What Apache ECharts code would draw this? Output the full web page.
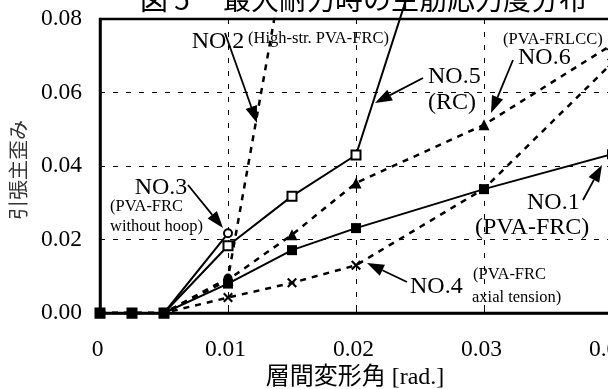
<!DOCTYPE html>
<html>
<head>
<meta charset="utf-8">
<script src="https://cdn.jsdelivr.net/npm/echarts@6/dist/echarts.min.js"></script>
<style>html,body{margin:0;padding:0;background:#fff;}#c{width:608px;height:389px;}</style>
</head>
<body>
<div id="c"></div>
<script>
// ---- data ----
const drift = [0, 0.0025, 0.005, 0.01, 0.015, 0.02, 0.03, 0.04];
const no1 = [0, 0, 0, 0.0080, 0.0171, 0.0231, 0.0337, 0.0432];
const no4 = [0, 0, 0, 0.0042, 0.0082, 0.0130, 0.0338, 0.0680];
const no6 = [0, 0, 0, 0.0090, 0.0213, 0.0354, 0.0512, 0.0730];
const drift5 = [0, 0.0025, 0.005, 0.01, 0.015, 0.02, 0.025];
const no5 = [0, 0, 0, 0.0183, 0.0318, 0.0430, 0.0970];
const drift3 = [0, 0.0025, 0.005, 0.01];
const no3 = [0, 0, 0, 0.0217];
const drift2 = [0, 0.0025, 0.005, 0.01, 0.015];
const no2 = [0, 0, 0, 0.0095, 0.1070];
const yTicks = [0, 0.02, 0.04, 0.06, 0.08];
const titleMain = '最大耐力時の主筋応力度分布';

function pairs(xs, ys) { return xs.map((x, i) => [x, ys[i]]); }

const SERIF = '"Liberation Serif", "Times New Roman", "Noto Sans CJK JP", serif';
const CJK = '"Noto Sans CJK JP", sans-serif';
const crossPath = 'path://M0,1.5L1.5,0L5,3.5L8.5,0L10,1.5L6.5,5L10,8.5L8.5,10L5,6.5L1.5,10L0,8.5L3.5,5Z';
const dash = [6, 6];
const BIG = 24, SMALL = 16.5;

function arrow(x1, y1, x2, y2) {
  const L = 17, W = 6;
  const dx = x2 - x1, dy = y2 - y1, len = Math.sqrt(dx * dx + dy * dy);
  const ux = dx / len, uy = dy / len;
  const bx = x2 - ux * L, by = y2 - uy * L;
  const nx = -uy, ny = ux;
  return {
    type: 'group', children: [
      { type: 'line', shape: { x1: x1, y1: y1, x2: bx, y2: by }, style: { stroke: '#000', lineWidth: 1.8 } },
      { type: 'polygon', shape: { points: [[x2, y2], [bx + nx * W, by + ny * W], [bx - nx * W, by - ny * W]] }, style: { fill: '#000' } }
    ]
  };
}
function txt(x, y, text, size, align, font) {
  return { type: 'text', x: x, y: y, z: 10, style: { text: text, fill: '#000', font: size + 'px ' + (font || SERIF), align: align || 'left', verticalAlign: 'middle' } };
}

const chart = echarts.init(document.getElementById('c'), null, { renderer: 'canvas' });
chart.setOption({
  animation: false,
  backgroundColor: '#fff',
  grid: { left: 100, top: 19, right: -132, bottom: 76, show: true, borderColor: '#000', borderWidth: 2.5, outerBoundsMode: 'none', containLabel: false },
  xAxis: {
    type: 'value', min: 0, max: 0.05, interval: 0.01,
    axisLine: { show: true, lineStyle: { color: '#000', width: 2.5 } },
    axisTick: { show: true, inside: true, length: 6, lineStyle: { color: '#000', width: 1 } },
    axisLabel: { color: '#000', fontFamily: SERIF, fontSize: 23.5, margin: 25, padding: [0, 5, 0, 0], formatter: v => v === 0 ? '0' : v.toFixed(2) },
    splitLine: { show: true, lineStyle: { color: '#000', width: 1, type: [5, 8] } }
  },
  yAxis: {
    type: 'value', min: yTicks[0], max: yTicks[yTicks.length - 1], interval: 0.02,
    axisLine: { show: true, lineStyle: { color: '#000', width: 2.5 } },
    axisTick: { show: false },
    axisLabel: { color: '#000', fontFamily: SERIF, fontSize: 23.5, margin: 18, formatter: v => v.toFixed(2) },
    splitLine: { show: true, lineStyle: { color: '#000', width: 1, type: [5, 8] } }
  },
  series: [
    { name: 'NO.2', type: 'line', data: pairs(drift2, no2), symbol: 'circle', symbolSize: 9,
      lineStyle: { color: '#000', width: 2.5, type: dash }, itemStyle: { color: '#000' }, z: 2 },
    { name: 'NO.4', type: 'line', data: pairs(drift, no4), symbol: crossPath, symbolSize: 10,
      lineStyle: { color: '#000', width: 2.5, type: dash }, itemStyle: { color: '#000' }, z: 2 },
    { name: 'NO.6', type: 'line', data: pairs(drift, no6), symbol: 'triangle', symbolSize: 11,
      lineStyle: { color: '#000', width: 2.5, type: dash }, itemStyle: { color: '#000' }, z: 2 },
    { name: 'NO.3', type: 'line', data: pairs(drift3, no3), symbol: 'circle', symbolSize: 8,
      lineStyle: { color: '#000', width: 2 }, itemStyle: { color: '#fff', borderColor: '#000', borderWidth: 2 }, z: 3 },
    { name: 'NO.5', type: 'line', data: pairs(drift5, no5), symbol: 'rect', symbolSize: 9, clip: false,
      lineStyle: { color: '#000', width: 2 }, itemStyle: { color: '#fff', borderColor: '#000', borderWidth: 2 }, z: 3 },
    { name: 'NO.1', type: 'line', data: pairs(drift, no1), symbol: 'rect', symbolSize: 10,
      lineStyle: { color: '#000', width: 2 }, itemStyle: { color: '#000' }, z: 4 }
  ],
  graphic: [
    txt(140, -1, '図 5', 28, 'left', CJK),
    txt(223, -1, titleMain, 28, 'left', CJK),
    { type: 'text', x: 18, y: 170, rotation: Math.PI / 2, style: { text: '引張主歪み', fill: '#333', font: '20px ' + CJK, align: 'center', verticalAlign: 'middle' } },
    txt(355, 378, '層間変形角 [rad.]', 24, 'center'),
    txt(218, 42, 'NO.2', BIG, 'center'),
    txt(248, 39, '(High-str. PVA-FRC)', SMALL),
    arrow(225, 33, 257, 123),
    txt(161, 188, 'NO.3', BIG, 'center'),
    txt(110, 207, '(PVA-FRC', SMALL),
    txt(110, 227, 'without hoop)', SMALL),
    arrow(188, 185, 223, 228),
    txt(428, 77, 'NO.5', BIG),
    txt(428, 103, '(RC)', BIG),
    arrow(423, 78, 375, 103),
    txt(518, 58, 'NO.6', BIG),
    txt(503, 40, '(PVA-FRLCC)', SMALL),
    arrow(513, 60, 491, 113),
    txt(527, 203, 'NO.1', BIG),
    txt(475, 228, '(PVA-FRC)', BIG),
    arrow(583, 200, 602, 165),
    txt(410, 287, 'NO.4', BIG),
    txt(473, 275, '(PVA-FRC', SMALL),
    txt(472, 298, 'axial tension)', SMALL),
    arrow(407, 282, 367, 263)
  ]
});
</script>
</body>
</html>
